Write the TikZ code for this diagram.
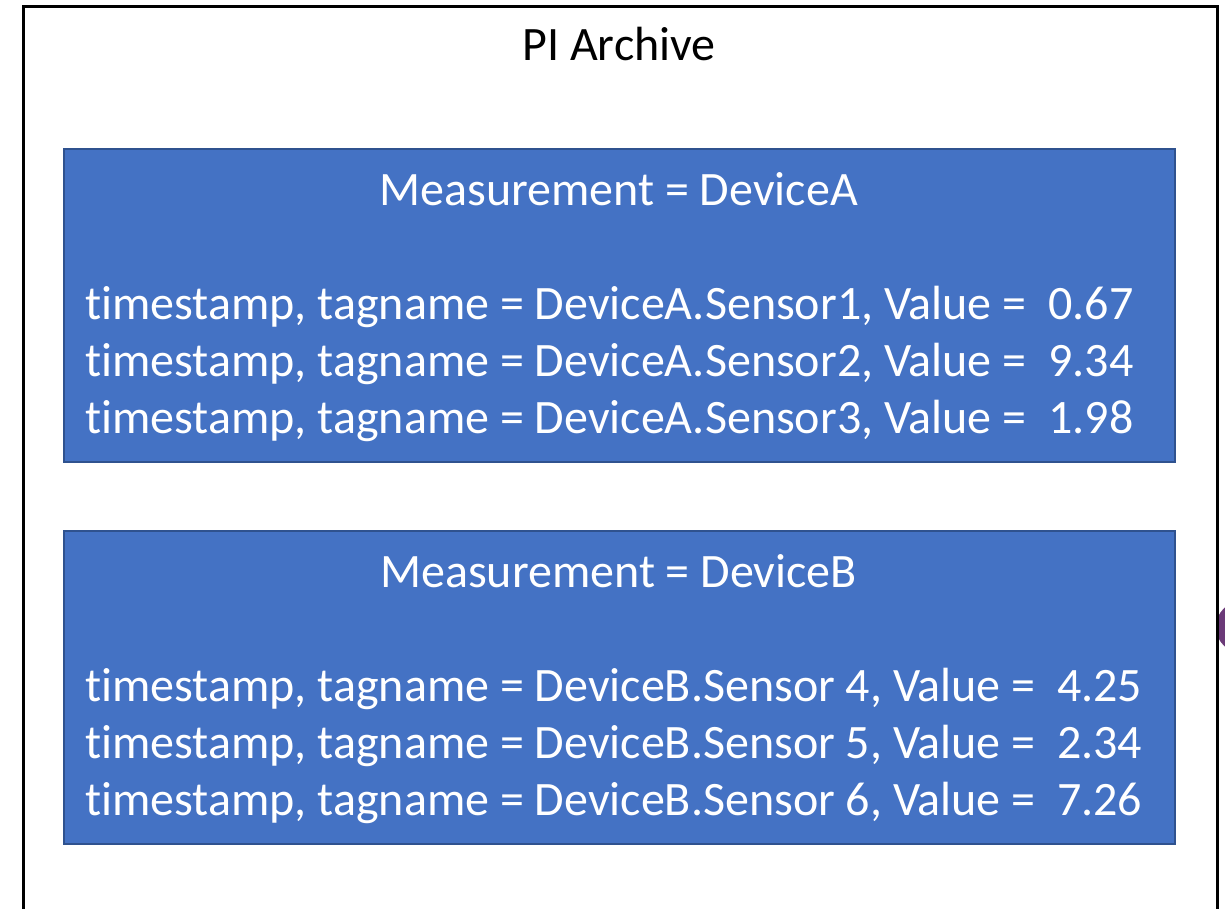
\documentclass[tikz,border=0pt]{standalone}
\usepackage{fontspec}
\setmainfont[Ligatures=NoCommon]{Carlito}
\usetikzlibrary{positioning}
\definecolor{devfill}{HTML}{4472C4}
\definecolor{devline}{HTML}{2F528F}
\definecolor{blob}{HTML}{6B3A78}
\tikzset{
    Frame/.style = {draw=black, line width=2pt, fill=white, inner sep=0pt}
}
\tikzset{
    Device/.style = {draw=devline, line width=1.5pt, fill=devfill, inner sep=0pt,
                     minimum width=833pt, minimum height=234.75pt}
}
\tikzset{
    Row/.style = {anchor=base west, inner sep=0pt, text=white},
    Head/.style = {anchor=base, inner sep=0pt, text=white}
}
\begin{document}
\begin{tikzpicture}[
    x=0.75pt, y=-0.75pt,
    font=\fontsize{36}{43}\selectfont
]
\useasboundingbox (0,0) rectangle (1225,908);
\fill[blob] (1242,627) circle (26);
\node[Frame, minimum width=895.5pt, minimum height=720pt, anchor=north west] at (22,5) (archive) {};
\node[anchor=base, inner sep=0pt] at (619,60) (title) {PI Archive};
% device A
\node[Device, anchor=north west] at (63,148) (devA) {};
\node[Head] at (618.5,205) (headA) {Measurement = DeviceA};
\node[Row] at (85,319) (a1) {timestamp, tagname = DeviceA.Sensor1, Value = \ 0.67};
\node[Row] at (85,376) (a2) {timestamp, tagname = DeviceA.Sensor2, Value = \ 9.34};
\node[Row] at (85,433) (a3) {timestamp, tagname = DeviceA.Sensor3, Value = \ 1.98};
% device B
\node[Device, anchor=north west] at (63,530) (devB) {};
\node[Head] at (618.5,587) (headB) {Measurement = DeviceB};
\node[Row] at (85,701) (b1) {timestamp, tagname = DeviceB.Sensor 4, Value = \ 4.25};
\node[Row] at (85,758) (b2) {timestamp, tagname = DeviceB.Sensor 5, Value = \ 2.34};
\node[Row] at (85,815) (b3) {timestamp, tagname = DeviceB.Sensor 6, Value = \ 7.26};
\end{tikzpicture}
\end{document}
